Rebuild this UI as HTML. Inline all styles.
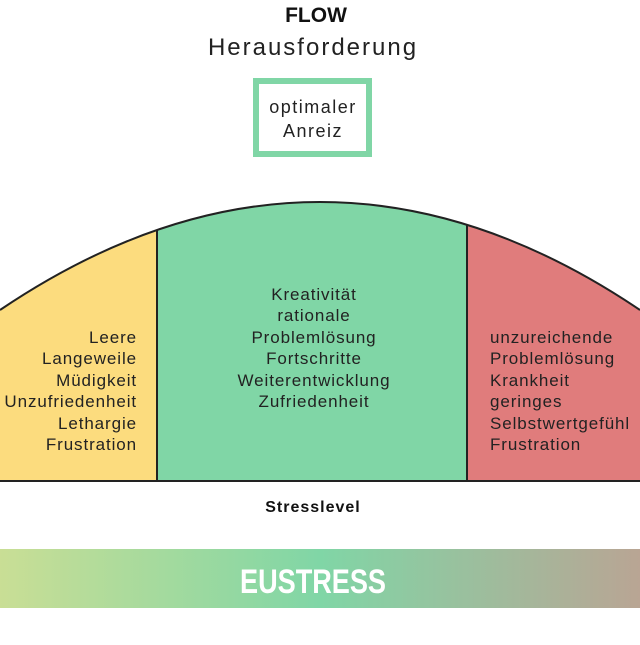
<!DOCTYPE html>
<html><head><meta charset="utf-8"><style>
html,body{margin:0;padding:0;background:#fff;}
body{width:640px;height:640px;overflow:hidden;}
text{font-family:"Liberation Sans",sans-serif;}
</style></head><body>
<svg width="640" height="640" viewBox="0 0 640 640" xmlns="http://www.w3.org/2000/svg">
<defs>
<clipPath id="c"><path d="M0 481 L0 310 Q320 94 640 310 L640 481 Z"/></clipPath>
<linearGradient id="g" x1="0" x2="1" y1="0" y2="0">
<stop offset="0" stop-color="#c9de95"/>
<stop offset="0.5" stop-color="#80d6a6"/>
<stop offset="1" stop-color="#b9a594"/>
</linearGradient>
</defs>
<text x="316" y="22" font-size="21" font-weight="bold" text-anchor="middle" fill="#111">FLOW</text>
<text x="313" y="55" font-size="24" letter-spacing="2" text-anchor="middle" fill="#222">Herausforderung</text>
<rect x="256" y="81" width="113" height="73" fill="#fff" stroke="#80d6a6" stroke-width="6"/>
<text x="313" y="113" font-size="18" letter-spacing="1.5" text-anchor="middle" fill="#222">optimaler</text>
<text x="313" y="137" font-size="18" letter-spacing="1.5" text-anchor="middle" fill="#222">Anreiz</text>
<g clip-path="url(#c)">
<rect x="0" y="190" width="158" height="292" fill="#fcdc7e"/>
<rect x="158" y="190" width="309" height="292" fill="#80d6a6"/>
<rect x="467" y="190" width="180" height="292" fill="#e07c7c"/>
</g>
<path d="M0 310 Q320 94 640 310" fill="none" stroke="#222" stroke-width="2"/>
<line x1="157" y1="200" x2="157" y2="481" stroke="#222" stroke-width="2" clip-path="url(#c)"/>
<line x1="467" y1="200" x2="467" y2="481" stroke="#222" stroke-width="2" clip-path="url(#c)"/>
<line x1="0" y1="481" x2="640" y2="481" stroke="#222" stroke-width="2"/>
<g font-size="17" letter-spacing="0.9" fill="#222" text-anchor="end">
<text x="137" y="343">Leere</text><text x="137" y="364">Langeweile</text><text x="137" y="386">Müdigkeit</text>
<text x="137" y="407">Unzufriedenheit</text><text x="137" y="429">Lethargie</text><text x="137" y="450">Frustration</text>
</g>
<g font-size="17" letter-spacing="0.9" fill="#222" text-anchor="middle">
<text x="314" y="300">Kreativität</text><text x="314" y="321">rationale</text><text x="314" y="343">Problemlösung</text>
<text x="314" y="364">Fortschritte</text><text x="314" y="386">Weiterentwicklung</text><text x="314" y="407">Zufriedenheit</text>
</g>
<g font-size="17" letter-spacing="0.9" fill="#222">
<text x="490" y="343">unzureichende</text><text x="490" y="364">Problemlösung</text><text x="490" y="386">Krankheit</text>
<text x="490" y="407">geringes</text><text x="490" y="429">Selbstwertgefühl</text><text x="490" y="450">Frustration</text>
</g>
<text x="313" y="512" font-size="16" letter-spacing="1" font-weight="bold" text-anchor="middle" fill="#111">Stresslevel</text>
<rect x="0" y="549" width="640" height="59" fill="url(#g)"/>
<text x="313" y="593" font-size="34" font-weight="bold" text-anchor="middle" fill="#fff" textLength="146" lengthAdjust="spacingAndGlyphs">EUSTRESS</text>
</svg>
</body></html>
